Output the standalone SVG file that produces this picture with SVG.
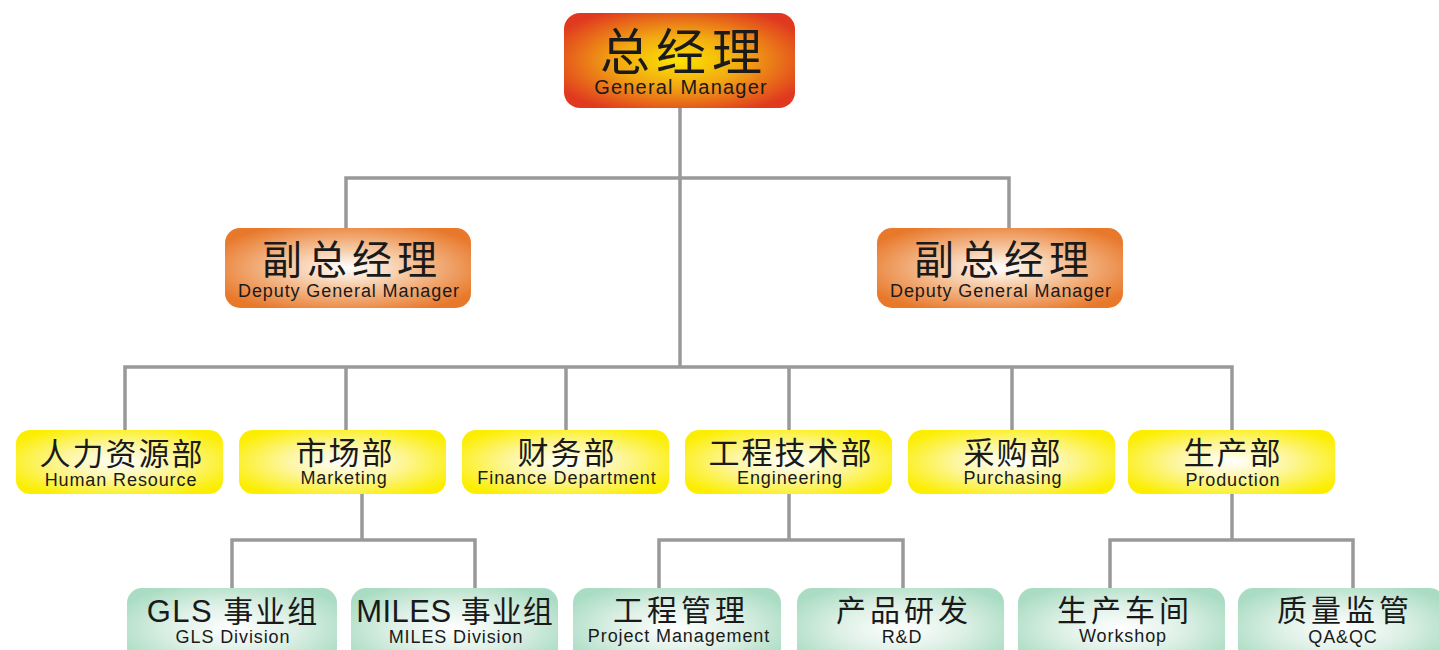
<svg xmlns="http://www.w3.org/2000/svg" width="1439" height="650" viewBox="0 0 1439 650">
<defs>
<radialGradient id="gTop" cx="50%" cy="50%" r="60%">
<stop offset="0" stop-color="#fbe500"/>
<stop offset="0.45" stop-color="#f2a813"/>
<stop offset="1" stop-color="#e0391f"/>
</radialGradient>
<radialGradient id="gDep" cx="50%" cy="50%" r="60%">
<stop offset="0" stop-color="#ffffff"/>
<stop offset="0.4" stop-color="#f6c9a4"/>
<stop offset="1" stop-color="#e8782a"/>
</radialGradient>
<radialGradient id="gDept" cx="50%" cy="50%" r="60%">
<stop offset="0" stop-color="#ffffff"/>
<stop offset="0.45" stop-color="#fdf6a0"/>
<stop offset="1" stop-color="#fcee00"/>
</radialGradient>
<radialGradient id="gSub" cx="50%" cy="50%" r="60%">
<stop offset="0" stop-color="#ffffff"/>
<stop offset="0.5" stop-color="#ddf0e6"/>
<stop offset="1" stop-color="#a9dcc2"/>
</radialGradient>
</defs>
<style>
.ln{fill:none;stroke:#999999;stroke-width:3.5;stroke-linejoin:miter}
.cn{font-family:"Noto Sans CJK SC","Noto Sans",sans-serif;fill:#1a1a1a;text-anchor:middle}
.en{font-family:"Liberation Sans",Arial,sans-serif;fill:#1a1a1a;text-anchor:middle}
.c1{font-size:50px;letter-spacing:6px}
.c2{font-size:40px;letter-spacing:5px}
.c3{font-size:31px;letter-spacing:2px}
.c4{font-size:30px;letter-spacing:4px}
.e1{font-size:20px;letter-spacing:1.2px}
.e2{font-size:18px;letter-spacing:0.9px}
.e3{font-size:18px;letter-spacing:0.9px}
</style>
<rect width="1439" height="650" fill="#ffffff"/>
<g id="connectors">
<path class="ln" d="M680 108V367"/>
<path class="ln" d="M346 228V178H1009V228"/>
<path class="ln" d="M125 430V367H1232V430"/>
<path class="ln" d="M346 367V430M566 367V430M789 367V430M1012 367V430"/>
<path class="ln" d="M362 494V540M232 588V540H475V588"/>
<path class="ln" d="M789 494V540M659 588V540H903V588"/>
<path class="ln" d="M1232 494V540M1110 588V540H1353V588"/>
</g>
<g id="gm">
<rect x="564" y="13" width="231" height="95" rx="16" fill="url(#gTop)"/>
<text class="cn c1" x="684" y="70">总经理</text>
<text class="en e1" x="681" y="94">General Manager</text>
</g>
<g id="dgm1">
<rect x="225" y="228" width="246" height="80" rx="15" fill="url(#gDep)"/>
<text class="cn c2" x="352" y="274">副总经理</text>
<text class="en e2" x="349" y="297">Deputy General Manager</text>
</g>
<g id="dgm2">
<rect x="877" y="228" width="246" height="80" rx="15" fill="url(#gDep)"/>
<text class="cn c2" x="1004" y="274">副总经理</text>
<text class="en e2" x="1001" y="297">Deputy General Manager</text>
</g>
<g id="hr">
<rect x="16" y="430" width="207" height="64" rx="14" fill="url(#gDept)"/>
<text class="cn c3" x="122" y="465">人力资源部</text>
<text class="en e3" x="121" y="486">Human Resource</text>
</g>
<g id="mkt">
<rect x="239" y="430" width="207" height="64" rx="14" fill="url(#gDept)"/>
<text class="cn c3" x="345" y="464">市场部</text>
<text class="en e3" x="344" y="484">Marketing</text>
</g>
<g id="fin">
<rect x="462" y="430" width="207" height="64" rx="14" fill="url(#gDept)"/>
<text class="cn c3" x="567" y="464">财务部</text>
<text class="en e3" x="567" y="484">Finance Department</text>
</g>
<g id="eng">
<rect x="685" y="430" width="207" height="64" rx="14" fill="url(#gDept)"/>
<text class="cn c3" x="791" y="464">工程技术部</text>
<text class="en e3" x="790" y="484">Engineering</text>
</g>
<g id="pur">
<rect x="908" y="430" width="207" height="64" rx="14" fill="url(#gDept)"/>
<text class="cn c3" x="1013" y="464">采购部</text>
<text class="en e3" x="1013" y="484">Purchasing</text>
</g>
<g id="prod">
<rect x="1128" y="430" width="207" height="64" rx="14" fill="url(#gDept)"/>
<text class="cn c3" x="1233" y="464">生产部</text>
<text class="en e3" x="1233" y="486">Production</text>
</g>
<g id="gls">
<rect x="127" y="588" width="210" height="80" rx="15" fill="url(#gSub)"/>
<text class="en" x="233" y="622" font-size="31px" letter-spacing="1.5px">GLS <tspan class="cn" font-size="30px" letter-spacing="2px">事业组</tspan></text>
<text class="en e3" x="233" y="643">GLS Division</text>
</g>
<g id="miles">
<rect x="351" y="588" width="207" height="80" rx="15" fill="url(#gSub)"/>
<text class="en" x="455" y="622" font-size="31px" letter-spacing="0.5px">MILES <tspan class="cn" font-size="30px" letter-spacing="1px">事业组</tspan></text>
<text class="en e3" x="456" y="643">MILES Division</text>
</g>
<g id="pm">
<rect x="573" y="588" width="208" height="80" rx="15" fill="url(#gSub)"/>
<text class="cn c4" x="681" y="621">工程管理</text>
<text class="en e3" x="679" y="642">Project Management</text>
</g>
<g id="rd">
<rect x="797" y="588" width="207" height="80" rx="15" fill="url(#gSub)"/>
<text class="cn c4" x="904" y="621">产品研发</text>
<text class="en e3" x="902" y="643">R&amp;D</text>
</g>
<g id="ws">
<rect x="1018" y="588" width="207" height="80" rx="15" fill="url(#gSub)"/>
<text class="cn c4" x="1125" y="621">生产车间</text>
<text class="en e3" x="1123" y="642">Workshop</text>
</g>
<g id="qa">
<rect x="1238" y="588" width="207" height="80" rx="15" fill="url(#gSub)"/>
<text class="cn c4" x="1345" y="621">质量监管</text>
<text class="en e3" x="1343" y="643">QA&amp;QC</text>
</g>
</svg>
